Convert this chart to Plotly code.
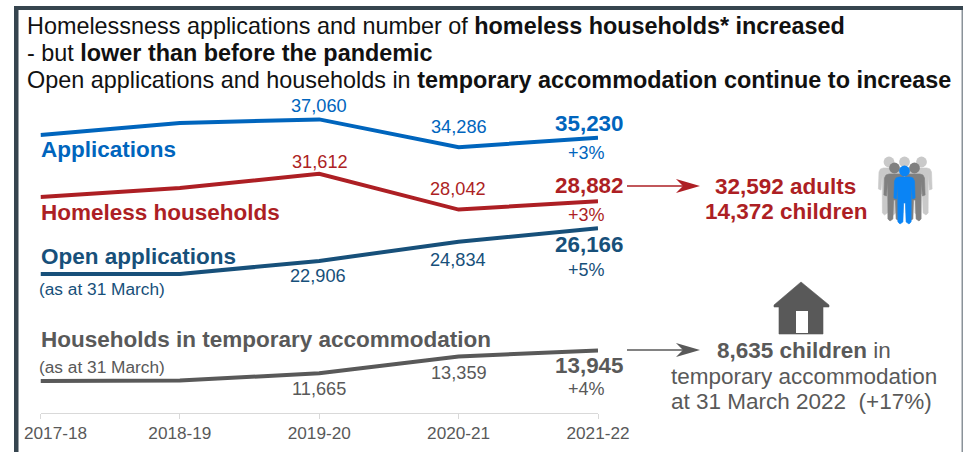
import plotly.graph_objects as go

W, H = 963, 452
FONT = "Liberation Sans"

# Data
years = ["2017-18", "2018-19", "2019-20", "2020-21", "2021-22"]
applications = [35500, 36700, 37060, 34286, 35230]
homeless_households = [29300, 30200, 31612, 28042, 28882]
open_applications = [21600, 21600, 22906, 24834, 26166]
temporary_accommodation = [10900, 10950, 11665, 13359, 13945]

BLUE = "#0065bd"
RED = "#ad1f24"
NAVY = "#17507a"
GREY = "#595959"
INK = "#111111"


def fx(px):
    return px / W


def fy(py):
    return 1 - py / H


fig = go.Figure()
for name, values, colour in [
    ("Applications", applications, BLUE),
    ("Homeless households", homeless_households, RED),
    ("Open applications", open_applications, NAVY),
    ("Households in temporary accommodation", temporary_accommodation, GREY),
]:
    fig.add_trace(go.Scatter(
        x=years, y=values, name=name, mode="lines",
        line=dict(color=colour, width=4, shape="linear"),
        hoverinfo="x+y+name",
    ))

annotations = []
shapes = []


def page_text(text, px, py, size, colour, anchor="center"):
    annotations.append(dict(
        text=text, x=fx(px), y=fy(py), xref="paper", yref="paper",
        xanchor=anchor, yanchor="middle", showarrow=False,
        font=dict(family=FONT, size=size, color=colour),
    ))


def value_label(values, i, colour, dy, dx=0, size=18.2, bold=False):
    text = f"{values[i]:,}"
    annotations.append(dict(
        text=f"<b>{text}</b>" if bold else text,
        x=years[i], y=values[i], xref="x", yref="y",
        xshift=dx, yshift=dy, showarrow=False,
        xanchor="center", yanchor="middle",
        font=dict(family=FONT, size=size, color=colour),
    ))


# Headline
page_text("Homelessness applications and number of <b>homeless households* increased</b>", 24.5, 26, 23.4, INK, "left")
page_text("- but <b>lower than before the pandemic</b>", 24.5, 53, 23.4, INK, "left")
page_text("Open applications and households in <b>temporary accommodation continue to increase</b>", 24.5, 80, 23.4, INK, "left")

# Series names
page_text("<b>Applications</b>", 39, 149, 22.5, BLUE, "left")
page_text("<b>Homeless households</b>", 38.5, 212, 22.5, RED, "left")
page_text("<b>Open applications</b>", 38.5, 256, 22.5, NAVY, "left")
page_text("(as at 31 March)", 37, 289, 17.3, NAVY, "left")
page_text("<b>Households in temporary accommodation</b>", 38.5, 339, 22.5, GREY, "left")
page_text("(as at 31 March)", 36.5, 367, 17.3, GREY, "left")

# Value labels
value_label(applications, 2, BLUE, 13)
value_label(applications, 3, BLUE, 20)
value_label(applications, 4, BLUE, 14.5, dx=-9, size=22.4, bold=True)
value_label(homeless_households, 2, RED, 12, dx=1)
value_label(homeless_households, 3, RED, 20.5, dx=-1)
value_label(homeless_households, 4, RED, 16, dx=-9, size=22.4, bold=True)
value_label(open_applications, 2, NAVY, -15.5, dx=-1)
value_label(open_applications, 3, NAVY, -18, dx=-1)
value_label(open_applications, 4, NAVY, -16, dx=-9, size=22.4, bold=True)
value_label(temporary_accommodation, 2, GREY, -16)
value_label(temporary_accommodation, 3, GREY, -17)
value_label(temporary_accommodation, 4, GREY, -15, dx=-9, size=22.4, bold=True)

# Year-on-year changes
page_text("+3%", 586.5, 153, 18, BLUE)
page_text("+3%", 586.5, 214.5, 18, RED)
page_text("+5%", 586.5, 269.5, 18, NAVY)
page_text("+4%", 586.5, 388.5, 18, GREY)

# Call-out text
page_text("<b>32,592 adults</b>", 785, 186, 22.5, RED)
page_text("<b>14,372 children</b>", 786, 211, 22.5, RED)
page_text("<b>8,635 children</b> in", 804, 350, 22.5, GREY)
page_text("temporary accommodation", 804, 376, 22.5, GREY)
page_text("at 31 March 2022  (+17%)", 801.5, 401, 22.5, GREY)

# First year label sits to the right of its tick
annotations.append(dict(
    text=years[0], x=years[0], y=fy(432.5), xref="x", yref="paper",
    xshift=15, showarrow=False, xanchor="center", yanchor="middle",
    font=dict(family=FONT, size=17.2, color=GREY),
))


def polygon(points, colour, stroke=0.0):
    path = "M " + " L ".join(f"{fx(x):.5f},{fy(y):.5f}" for x, y in points) + " Z"
    shapes.append(dict(
        type="path", path=path, xref="paper", yref="paper",
        fillcolor=colour, layer="above",
        line=dict(color=colour, width=stroke),
    ))


def arrow(x0, x1, y, colour):
    shapes.append(dict(
        type="line", xref="paper", yref="paper", layer="above",
        x0=fx(x0), x1=fx(x1 - 8), y0=fy(y), y1=fy(y),
        line=dict(color=colour, width=1.4),
    ))
    polygon([(x1, y), (x1 - 24, y - 7), (x1 - 17, y), (x1 - 24, y + 7)], colour)


arrow(627, 700, 186, RED)
arrow(627, 700, 350, GREY)


def person(cx, cy, scale, colour):
    right = [(5.5, 6), (8.5, 7), (10, 10), (10.6, 27), (8, 28), (6.8, 13),
             (6.6, 51), (4.5, 53), (1.6, 51), (0.9, 32)]
    body = right + [(-x, y) for x, y in reversed(right)]
    polygon([(cx + x * scale, cy + y * scale) for x, y in body], colour, 0.6)
    shapes.append(dict(
        type="circle", xref="paper", yref="paper", layer="above",
        x0=fx(cx - 5.4 * scale), x1=fx(cx + 5.4 * scale),
        y0=fy(cy - 5.4 * scale), y1=fy(cy + 5.4 * scale),
        fillcolor=colour, line=dict(width=0),
    ))


# Group of people
for cx in (889, 921.5, 904.5):
    person(cx, 162, 1.0, "#c9c9c9")
for cx in (894.5, 914.5):
    person(cx, 168, 1.0, "#808080")
person(904.5, 171, 1.0, "#0a84f5")

# House
polygon([(801, 282), (829, 305), (829, 307), (823, 307), (823, 334), (779, 334),
         (779, 307), (774, 307), (774, 305)], GREY, 0.6)
polygon([(796, 311), (808, 311), (808, 333), (796, 333)], "#ffffff")

# Frame
shapes.append(dict(type="rect", xref="paper", yref="paper", layer="below",
                   x0=fx(14), x1=fx(963), y0=fy(6), y1=fy(10),
                   fillcolor="#36454f", line=dict(width=0)))
shapes.append(dict(type="rect", xref="paper", yref="paper", layer="below",
                   x0=fx(14), x1=fx(18.5), y0=fy(6), y1=fy(452),
                   fillcolor="#36454f", line=dict(width=0)))
shapes.append(dict(type="rect", xref="paper", yref="paper", layer="below",
                   x0=fx(961.5), x1=fx(963), y0=fy(10), y1=fy(452),
                   fillcolor="#8a9299", line=dict(width=0)))

fig.update_layout(
    width=W, height=H,
    margin=dict(l=0, r=0, t=0, b=0, autoexpand=False),
    paper_bgcolor="#ffffff", plot_bgcolor="#ffffff",
    showlegend=False,
    annotations=annotations, shapes=shapes,
    xaxis=dict(
        domain=[fx(40.5), fx(598)], type="category",
        categoryorder="array", categoryarray=years, range=[0, 4],
        tickmode="array", tickvals=years, ticktext=[""] + years[1:],
        showgrid=False, zeroline=False,
        showline=True, linecolor="#d9d9d9", linewidth=1,
        ticks="outside", ticklen=5, tickcolor="#d9d9d9", tickwidth=1,
        tickfont=dict(family=FONT, size=17.2, color=GREY),
    ),
    yaxis=dict(
        domain=[fy(412.5), fy(100)], range=[7750, 39000],
        visible=False,
    ),
)

fig.write_html("out.html")
